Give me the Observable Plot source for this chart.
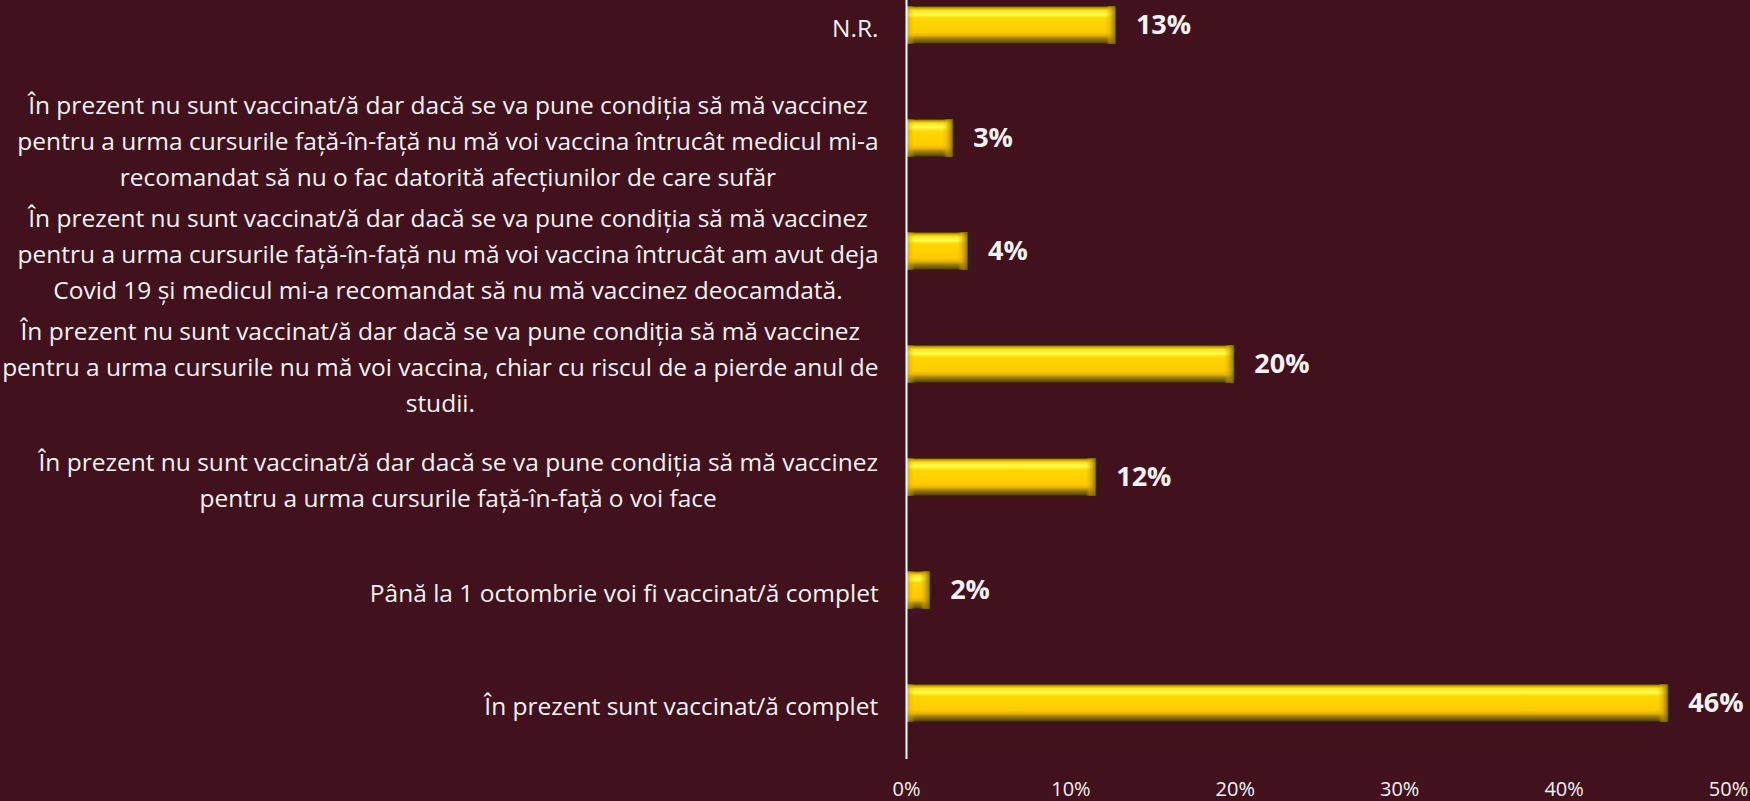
<!DOCTYPE html>
<html>
<head>
<meta charset="utf-8">
<script src="https://cdn.jsdelivr.net/npm/d3@7"></script>
<script src="https://cdn.jsdelivr.net/npm/@observablehq/plot@0.6"></script>
<style>
  html, body { margin: 0; padding: 0; background: #41121e; }
  #chart { width: 1750px; height: 801px; overflow: hidden; }
</style>
</head>
<body>
<div id="chart"></div>
<script>
const categories = [
  "N.R.",
  "În prezent nu sunt vaccinat/ă dar dacă se va pune condiția să mă vaccinez\npentru a urma cursurile față-în-față nu mă voi vaccina întrucât medicul mi-a\nrecomandat să nu o fac datorită afecțiunilor de care sufăr",
  "În prezent nu sunt vaccinat/ă dar dacă se va pune condiția să mă vaccinez\npentru a urma cursurile față-în-față nu mă voi vaccina întrucât am avut deja\nCovid 19 și medicul mi-a recomandat să nu mă vaccinez deocamdată.",
  "În prezent nu sunt vaccinat/ă dar dacă se va pune condiția să mă vaccinez\npentru a urma cursurile nu mă voi vaccina, chiar cu riscul de a pierde anul de\nstudii.",
  "În prezent nu sunt vaccinat/ă dar dacă se va pune condiția să mă vaccinez\npentru a urma cursurile față-în-față o voi face",
  "Până la 1 octombrie voi fi vaccinat/ă complet",
  "În prezent sunt vaccinat/ă complet"
];
const values = [12.8, 2.9, 3.8, 20.0, 11.6, 1.5, 46.4];
const valueLabels = ["13%", "3%", "4%", "20%", "12%", "2%", "46%"];
const xTicks = [0, 10, 20, 30, 40, 50];

const data = categories.map((c, i) => ({label: c, value: values[i], valueLabel: valueLabels[i]}));

const chart = Plot.plot({
  width: 1750,
  height: 801,
  marginLeft: 906,
  marginRight: 22,
  marginTop: 0,
  marginBottom: 42,
  style: {background: "#41121e", color: "#f2f2f2", fontFamily: "'Open Sans', sans-serif", fontSize: "20px", overflow: "hidden"},
  x: {domain: [0, 50], ticks: xTicks, tickFormat: d => d + "%", tickSize: 0, tickPadding: 22, label: null},
  y: {domain: categories, range: [-33, 761], paddingInner: 0.66, paddingOuter: 0.33, axis: null},
  marks: [
    Plot.barX(data, {y: "label", x: "value", fill: "url(#gold)", stroke: "#2b2000", strokeWidth: 1}),
    Plot.barX(data, {y: "label", x1: "value", x2: "value", insetLeft: -11, fill: "url(#capR)"}),
    Plot.barX(data, {y: "label", x1: 0, x2: 0, insetRight: -9, fill: "url(#capL)"}),
    Plot.ruleX([0], {stroke: "#ffffff", strokeWidth: 2}),
    Plot.text(data, {y: "label", text: "label", frameAnchor: "left", textAnchor: "end", dx: -28, lineHeight: 1.46, fontSize: 24.5, fill: "#f2f2f2"}),
    Plot.text(data, {y: "label", x: "value", text: "valueLabel", textAnchor: "start", dx: 19, fontSize: 27, fontWeight: "bold", fill: "#f2f2f2"})
  ]
});

document.getElementById("chart").appendChild(chart);

// gradients for bevelled gold bars
const svg = d3.select(chart);
const defs = svg.insert("defs", ":first-child");
const g1 = defs.append("linearGradient").attr("id", "gold").attr("x1", 0).attr("y1", 0).attr("x2", 0).attr("y2", 1);
[[0, "#6b5500"], [0.05, "#c9a000"], [0.12, "#ffe51f"], [0.22, "#ffff4d"], [0.32, "#ffd600"], [0.68, "#ffcc00"], [0.78, "#e3b300"], [0.85, "#a07f00"], [0.95, "#6a5300"], [1, "#3b2d00"]]
  .forEach(([o, c]) => g1.append("stop").attr("offset", o).attr("stop-color", c));
const g2 = defs.append("linearGradient").attr("id", "capR").attr("x1", 0).attr("y1", 0).attr("x2", 1).attr("y2", 0);
[[0, "#d9a800", 0], [0.35, "#d9a800", 0.45], [0.85, "#8a6b00", 0.85], [1, "#1e1700", 1]]
  .forEach(([o, c, a]) => g2.append("stop").attr("offset", o).attr("stop-color", c).attr("stop-opacity", a));
const g3 = defs.append("linearGradient").attr("id", "capL").attr("x1", 0).attr("y1", 0).attr("x2", 1).attr("y2", 0);
[[0, "#b88e00", 0.8], [1, "#ffcc00", 0]]
  .forEach(([o, c, a]) => g3.append("stop").attr("offset", o).attr("stop-color", c).attr("stop-opacity", a));

// center the lines of each category label within its right-aligned block
const textGroups = chart.querySelectorAll('g[aria-label="text"]');
const labelGroup = textGroups[0];
labelGroup.querySelectorAll("text").forEach(t => {
  const bb = t.getBBox();
  const cx = bb.x + bb.width / 2;
  t.setAttribute("text-anchor", "middle");
  const spans = t.querySelectorAll("tspan");
  if (spans.length) spans.forEach(s => s.setAttribute("x", cx));
  else t.setAttribute("x", cx);
});
</script>
</body>
</html>
